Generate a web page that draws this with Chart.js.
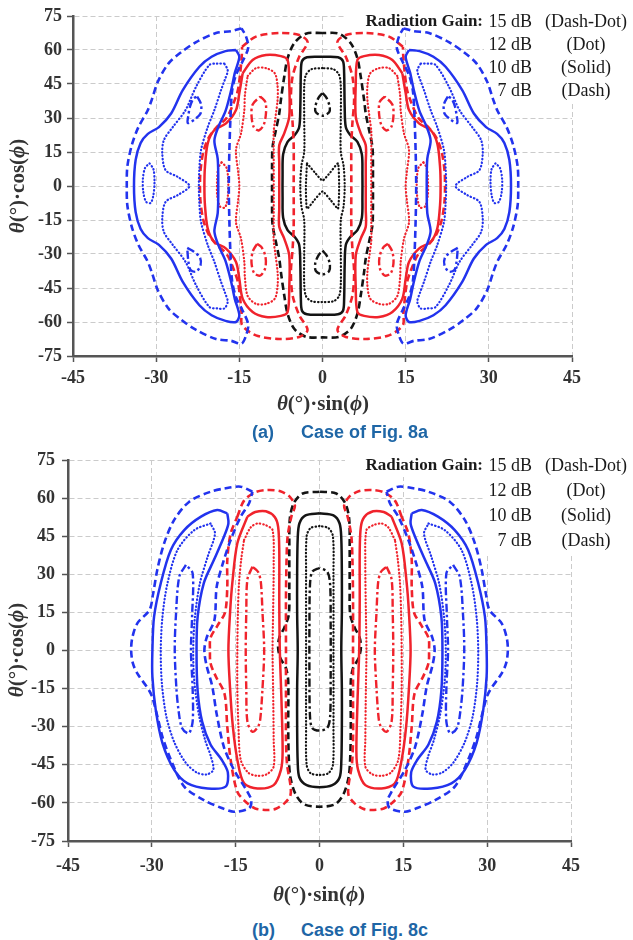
<!DOCTYPE html>
<html>
<head>
<meta charset="utf-8">
<script src="https://cdn.jsdelivr.net/npm/chart.js@4.4.1/dist/chart.umd.min.js"></script>
<style>
  body { margin: 0; background: #fff; width: 633px; height: 940px; position: relative; overflow: hidden; }
  .box { position: absolute; left: 0; width: 633px; }
  #boxA { top: 0; height: 420px; }
  #boxB { top: 440px; height: 470px; }
  .cap { position: absolute; font: bold 18px "Liberation Sans", Arial, sans-serif; color: #1e66a6; line-height: 22px; white-space: pre; }
</style>
</head>
<body>
<div class="box" id="boxA"><canvas id="chartA"></canvas></div>
<div class="box" id="boxB"><canvas id="chartB"></canvas></div>
<div class="cap" style="left:252px;top:421px">(a)</div>
<div class="cap" style="left:301px;top:421px">Case of Fig. 8a</div>
<div class="cap" style="left:252px;top:919px">(b)</div>
<div class="cap" style="left:301px;top:919px">Case of Fig. 8c</div>
<script>
// ── Axis ticks & legend text ───────────────────────────────
const xTicks = [-45, -30, -15, 0, 15, 30, 45];
const yTicks = [-75, -60, -45, -30, -15, 0, 15, 30, 45, 60, 75];
const legendTitle  = 'Radiation Gain:';
const legendLevels = ['15 dB', '12 dB', '10 dB', '7 dB'];
const legendStyles = ['(Dash-Dot)', '(Dot)', '(Solid)', '(Dash)'];

// ── Contours, case (a) — [θ·sinφ, θ·cosφ] ───────────────────
const aBlackDash = [[0,67.5],[-3,67.2],[-5.1,63],[-6.3,56.3],[-6.9,48.2],[-7.5,38],[-7.8,32],[-8.4,24.7],[-9,17.3],[-9.1,8.5],[-9.1,0],[-9.1,-8.5],[-9,-17.3],[-8.4,-24.7],[-7.8,-32],[-7.5,-38],[-6.9,-48.2],[-6.3,-56.3],[-5.1,-63],[-3,-66.5],[0,-66.8],[3,-66.5],[5.1,-63],[6.3,-56.3],[6.9,-48.2],[7.5,-38],[7.8,-32],[8.4,-24.7],[9,-17.3],[9.1,-8.5],[9.1,0],[9.1,8.5],[9,17.3],[8.4,24.7],[7.8,32],[7.5,38],[6.9,48.2],[6.3,56.3],[5.1,63],[3,67.2],[0,67.5]];
const aBlackSolid = [[0,57],[-2.8,56.8],[-3.7,55],[-3.9,50],[-4,35],[-4.2,26],[-5,22.5],[-6.3,19.5],[-7.1,14],[-7.2,5],[-7.2,-5],[-7.1,-14],[-6.3,-19.5],[-5,-22.5],[-4.2,-26],[-4,-35],[-3.9,-50],[-3.7,-55],[-2.8,-56.6],[0,-56.8],[2.8,-56.6],[3.7,-55],[3.9,-50],[4,-35],[4.2,-26],[5,-22.5],[6.3,-19.5],[7.1,-14],[7.2,-5],[7.2,5],[7.1,14],[6.3,19.5],[5,22.5],[4.2,26],[4,35],[3.9,50],[3.7,55],[2.8,56.8],[0,57]];
const aBlackDot = [[0,52],[-2,51.5],[-3,49],[-3.3,44],[-3.3,30],[-3.3,15],[-3.8,9],[-4,0],[-3.8,-9],[-3.3,-15],[-3.3,-30],[-3.3,-43],[-3,-48.5],[-2,-50.8],[0,-51.2],[2,-50.8],[3,-48.5],[3.3,-43],[3.3,-30],[3.3,-15],[3.8,-9],[4,0],[3.8,9],[3.3,15],[3.3,30],[3.3,44],[3,49],[2,51.5],[0,52]];
const aBlackDotTie = [[-2.8,10],[-1.4,6],[0,2.4],[1.4,6],[2.8,10],[3,0],[2.8,-10],[1.4,-6],[0,-2.4],[-1.4,-6],[-2.8,-10],[-3,0],[-2.8,10]];
const aBlackDDTop = [[0,41],[0.7,39],[1.3,35],[1.2,32.5],[0,31],[-1.2,32.5],[-1.3,35],[-0.7,39],[0,41]];
const aBlackDDBot = [[0,-28.5],[0.7,-30.5],[1.3,-34],[1.2,-37.5],[0,-39],[-1.2,-37.5],[-1.3,-34],[-0.7,-30.5],[0,-28.5]];

const aRedSolidL = [[-14.4,49.7],[-12.6,55.6],[-10.2,57.8],[-7.5,57.3],[-6.3,55.6],[-6,45.3],[-6,30.6],[-6.9,23.2],[-7.8,18],[-7.8,10],[-7.8,0],[-7.8,-10],[-7.8,-18],[-6.9,-23.2],[-6,-30.6],[-6,-45.3],[-6.3,-55.6],[-7.5,-57.3],[-10.2,-57.8],[-12.6,-55.6],[-14.4,-49.7],[-15,-41],[-15.6,-33.5],[-17.4,-27.6],[-19.5,-24.7],[-20.7,-18.8],[-21.2,-8.5],[-21.3,0],[-21.2,8.5],[-20.7,18.8],[-19.5,24.7],[-17.4,27.6],[-15.6,33.5],[-15,41],[-14.4,49.7]];
const aRedSolidR = [[14.4,49.7],[12.6,55.6],[10.2,57.8],[7.5,57.3],[6.3,55.6],[6,45.3],[6,30.6],[6.9,23.2],[7.8,18],[7.8,10],[7.8,0],[7.8,-10],[7.8,-18],[6.9,-23.2],[6,-30.6],[6,-45.3],[6.3,-55.6],[7.5,-57.3],[10.2,-57.8],[12.6,-55.6],[14.4,-49.7],[15,-41],[15.6,-33.5],[17.4,-27.6],[19.5,-24.7],[20.7,-18.8],[21.2,-8.5],[21.3,0],[21.2,8.5],[20.7,18.8],[19.5,24.7],[17.4,27.6],[15.6,33.5],[15,41],[14.4,49.7]];
const aRedDashL = [[-14.5,61.4],[-12,65.9],[-7.8,67.5],[-4.2,66.6],[-2.7,63.5],[-4.2,57],[-5.4,48.2],[-5.7,38],[-5.4,28],[-5.2,18],[-5.2,0],[-5.2,-18],[-5.4,-28],[-5.7,-38],[-5.4,-48.2],[-4.2,-57],[-2.7,-63.5],[-4.2,-66.6],[-7.8,-67.5],[-12,-65.9],[-14.5,-61.4],[-14.6,-56],[-15.2,-43],[-15.9,-37.5],[-17.3,-30],[-19.2,-25.7],[-20.6,-21],[-21.5,-15],[-22,-7],[-22.1,0],[-22,7],[-21.5,15],[-20.6,21],[-19.2,25.7],[-17.3,30],[-15.9,37.5],[-15.2,43],[-14.6,56],[-14.5,61.4]];
const aRedDashR = [[14.5,61.4],[12,65.9],[7.8,67.5],[4.2,66.6],[2.7,63.5],[4.2,57],[5.4,48.2],[5.7,38],[5.4,28],[5.2,18],[5.2,0],[5.2,-18],[5.4,-28],[5.7,-38],[5.4,-48.2],[4.2,-57],[2.7,-63.5],[4.2,-66.6],[7.8,-67.5],[12,-65.9],[14.5,-61.4],[14.6,-56],[15.2,-43],[15.9,-37.5],[17.3,-30],[19.2,-25.7],[20.6,-21],[21.5,-15],[22,-7],[22.1,0],[22,7],[21.5,15],[20.6,21],[19.2,25.7],[17.3,30],[15.9,37.5],[15.2,43],[14.6,56],[14.5,61.4]];
const aRedDotL = [[-13.5,48.5],[-12,52],[-10.2,52],[-8.6,49.7],[-8.1,44],[-8.1,38],[-8.5,30],[-8.8,24],[-8.8,15],[-8.8,0],[-8.8,-15],[-8.8,-24],[-8.5,-30],[-8.1,-38],[-8.1,-44],[-8.6,-49.7],[-10.2,-52],[-12,-52],[-13.5,-48.5],[-14,-40],[-14.1,-33.5],[-14.7,-23.2],[-15.6,-16],[-15.2,-6],[-15,0],[-15.2,6],[-15.6,16],[-14.7,23.2],[-14.1,33.5],[-14,40],[-13.5,48.5]];
const aRedDotR = [[13.5,48.5],[12,52],[10.2,52],[8.6,49.7],[8.1,44],[8.1,38],[8.5,30],[8.8,24],[8.8,15],[8.8,0],[8.8,-15],[8.8,-24],[8.5,-30],[8.1,-38],[8.1,-44],[8.6,-49.7],[10.2,-52],[12,-52],[13.5,-48.5],[14,-40],[14.1,-33.5],[14.7,-23.2],[15.6,-16],[15.2,-6],[15,0],[15.2,6],[15.6,16],[14.7,23.2],[14.1,33.5],[14,40],[13.5,48.5]];
const aRedDotOvalL = [[-18.2,10.5],[-17.3,8],[-17,2],[-17.1,-5],[-17.6,-9.5],[-18.5,-9],[-19,-4],[-19,3],[-18.8,8],[-18.2,10.5]];
const aRedDotOvalR = [[18.2,10.5],[17.3,8],[17,2],[17.1,-5],[17.6,-9.5],[18.5,-9],[19,-4],[19,3],[18.8,8],[18.2,10.5]];
const aRedDDTopL = [[-11.2,39.5],[-10.3,37],[-10.2,32],[-10.6,27],[-11.5,24.5],[-12.4,26],[-12.8,31],[-12.6,36],[-11.2,39.5]];
const aRedDDTopR = [[11.2,39.5],[10.3,37],[10.2,32],[10.6,27],[11.5,24.5],[12.4,26],[12.8,31],[12.6,36],[11.2,39.5]];
const aRedDDBotL = [[-11.8,-25.5],[-11,-27],[-10.3,-31],[-10.3,-36],[-11.2,-39.5],[-12.3,-38.5],[-12.8,-34],[-12.6,-29],[-11.8,-25.5]];
const aRedDDBotR = [[11.8,-25.5],[11,-27],[10.3,-31],[10.3,-36],[11.2,-39.5],[12.3,-38.5],[12.8,-34],[12.6,-29],[11.8,-25.5]];

const aBlueDashL = [[-14.6,69.5],[-16.5,68.3],[-19.2,67.5],[-22.8,63.5],[-25.5,59],[-27.8,54],[-29.7,46],[-30.8,38],[-31.6,33],[-33.2,26],[-34.4,18],[-35.2,8.5],[-35.3,0],[-35.2,-8.5],[-34.4,-18],[-33.2,-26],[-31.6,-33],[-30.8,-38],[-29.7,-46],[-27.8,-54],[-25.5,-59],[-22.8,-63.5],[-19.2,-67.5],[-16.5,-68.3],[-14.6,-69.5],[-13.8,-66],[-13.4,-61],[-14.4,-55],[-15.6,-49],[-16.3,-42],[-16.6,-30],[-16.8,-15],[-16.9,0],[-16.8,15],[-16.6,30],[-16.3,42],[-15.6,49],[-14.4,55],[-13.4,61],[-13.8,66],[-14.6,69.5]];
const aBlueDashR = [[14.6,69.5],[16.5,68.3],[19.2,67.5],[22.8,63.5],[25.5,59],[27.8,54],[29.7,46],[30.8,38],[31.6,33],[33.2,26],[34.4,18],[35.2,8.5],[35.3,0],[35.2,-8.5],[34.4,-18],[33.2,-26],[31.6,-33],[30.8,-38],[29.7,-46],[27.8,-54],[25.5,-59],[22.8,-63.5],[19.2,-67.5],[16.5,-68.3],[14.6,-69.5],[13.8,-66],[13.4,-61],[14.4,-55],[15.6,-49],[16.3,-42],[16.6,-30],[16.8,-15],[16.9,0],[16.8,15],[16.6,30],[16.3,42],[15.6,49],[14.4,55],[13.4,61],[13.8,66],[14.6,69.5]];
const aBlueSolidL = [[-15.6,60],[-17.5,59.5],[-20,57],[-22.2,52.6],[-25.2,42.3],[-27.3,32],[-29.5,26],[-31.5,23],[-32.8,19],[-33.7,11.5],[-34,0],[-33.7,-11.5],[-32.8,-19],[-31.5,-23],[-29.5,-26],[-27.3,-32],[-25.2,-42.3],[-22.2,-52.6],[-20,-57],[-17.5,-59.5],[-15.6,-60],[-15,-57],[-15.8,-50],[-16.5,-42],[-17.5,-33],[-18.8,-26],[-19.5,-20],[-18.9,-12],[-18.8,0],[-18.9,12],[-19.5,20],[-18.8,26],[-17.5,33],[-16.5,42],[-15.8,50],[-15,57],[-15.6,60]];
const aBlueSolidR = [[15.6,60],[17.5,59.5],[20,57],[22.2,52.6],[25.2,42.3],[27.3,32],[29.5,26],[31.5,23],[32.8,19],[33.7,11.5],[34,0],[33.7,-11.5],[32.8,-19],[31.5,-23],[29.5,-26],[27.3,-32],[25.2,-42.3],[22.2,-52.6],[20,-57],[17.5,-59.5],[15.6,-60],[15,-57],[15.8,-50],[16.5,-42],[17.5,-33],[18.8,-26],[19.5,-20],[18.9,-12],[18.8,0],[18.9,12],[19.5,20],[18.8,26],[17.5,33],[16.5,42],[15.8,50],[15,57],[15.6,60]];
const aBlueDotL = [[-17.7,54],[-19,54],[-20.4,53.4],[-22.8,43.8],[-24.7,33.5],[-27,26],[-28.6,20.3],[-28.9,14.4],[-28.3,7],[-26.1,4],[-24,0],[-26.1,-4],[-28.3,-7],[-28.9,-14.4],[-28.6,-20.3],[-27,-26],[-24.7,-33.5],[-22.8,-43.8],[-20.4,-53.4],[-19,-54],[-17.7,-54],[-17.1,-51],[-17.6,-47],[-18.3,-42.3],[-19.5,-33.5],[-20.7,-26],[-21.9,-16],[-22.2,-8],[-22.3,0],[-22.2,8],[-21.9,16],[-20.7,26],[-19.5,33.5],[-18.3,42.3],[-17.6,47],[-17.1,51],[-17.7,54]];
const aBlueDotR = [[17.7,54],[19,54],[20.4,53.4],[22.8,43.8],[24.7,33.5],[27,26],[28.6,20.3],[28.9,14.4],[28.3,7],[26.1,4],[24,0],[26.1,-4],[28.3,-7],[28.9,-14.4],[28.6,-20.3],[27,-26],[24.7,-33.5],[22.8,-43.8],[20.4,-53.4],[19,-54],[17.7,-54],[17.1,-51],[17.6,-47],[18.3,-42.3],[19.5,-33.5],[20.7,-26],[21.9,-16],[22.2,-8],[22.3,0],[22.2,8],[21.9,16],[20.7,26],[19.5,33.5],[18.3,42.3],[17.6,47],[17.1,51],[17.7,54]];
const aBlueDotOvalL = [[-31.2,10],[-30.5,7.5],[-30.3,2],[-30.5,-4],[-31,-7.5],[-31.8,-7],[-32.3,-3],[-32.4,3],[-32,8],[-31.2,10]];
const aBlueDotOvalR = [[31.2,10],[30.5,7.5],[30.3,2],[30.5,-4],[31,-7.5],[31.8,-7],[32.3,-3],[32.4,3],[32,8],[31.2,10]];
const aBlueDDTopL = [[-22.6,39.5],[-21.9,36],[-22,32],[-23,29.5],[-24.3,27.8],[-24.2,31],[-23.9,35],[-23.3,38.5],[-22.6,39.5]];
const aBlueDDTopR = [[22.6,39.5],[21.9,36],[22,32],[23,29.5],[24.3,27.8],[24.2,31],[23.9,35],[23.3,38.5],[22.6,39.5]];
const aBlueDDBotL = [[-24.4,-27.3],[-23.2,-29],[-22.1,-31.5],[-22,-35],[-22.8,-37.8],[-23.8,-37],[-24.2,-33],[-24.4,-27.3]];
const aBlueDDBotR = [[24.4,-27.3],[23.2,-29],[22.1,-31.5],[22,-35],[22.8,-37.8],[23.8,-37],[24.2,-33],[24.4,-27.3]];

// ── Contours, case (b) ─────────────────────────────────────
const bBlackDash = [[0,62.5],[-3,61.8],[-4.6,58],[-5.3,52],[-5.4,40],[-5.4,25],[-5.5,14],[-6.3,9],[-7.2,5],[-7.4,1],[-7,-3],[-6,-7],[-5.6,-12],[-5.6,-30],[-5.5,-42],[-5.2,-50],[-4.3,-56.5],[-2.8,-60.5],[0,-61.5],[2.8,-60.5],[4.3,-56.5],[5.2,-50],[5.5,-42],[5.6,-30],[5.6,-12],[6,-7],[7,-3],[7.4,1],[7.2,5],[6.3,9],[5.5,14],[5.4,25],[5.4,40],[5.3,52],[4.6,58],[3,61.8],[0,62.5]];
const bBlackSolid = [[0,54],[-2.5,53.2],[-3.6,50],[-3.9,44],[-4,30],[-4,15],[-3.9,0],[-4,-15],[-4,-30],[-3.9,-44],[-3.6,-50],[-2.3,-53],[0,-53.8],[2.3,-53],[3.6,-50],[3.9,-44],[4,-30],[4,-15],[3.9,0],[4,15],[4,30],[3.9,44],[3.6,50],[2.5,53.2],[0,54]];
const bBlackDot = [[0,49],[-1.6,48.2],[-2.3,45],[-2.4,30],[-2.4,0],[-2.4,-30],[-2.3,-45],[-1.6,-48.3],[0,-49],[1.6,-48.3],[2.4,-45],[2.5,-30],[2.5,0],[2.5,30],[2.4,45],[1.6,48.2],[0,49]];
const bBlackDD = [[0,32.5],[-1.3,31],[-1.7,26],[-1.8,10],[-1.8,-10],[-1.7,-26],[-1.3,-30.5],[0,-31.5],[1.4,-30.5],[1.9,-26],[2,-10],[2,10],[1.9,26],[1.4,31],[0,32.5]];

const bRedSolidL = [[-12.9,52.7],[-11.5,54.5],[-9.6,54.8],[-8,52.5],[-7.4,48.7],[-7.2,39.6],[-7.2,20],[-7.1,0],[-6.8,-20],[-6.6,-40],[-6.9,-47],[-8.2,-53],[-11.1,-54.3],[-13.5,-52.3],[-14.7,-43],[-15.5,-30],[-16,-15],[-16.3,0],[-16,15],[-15.6,26.5],[-14.7,42.2],[-12.9,52.7]];
const bRedSolidR = [[12.9,52.7],[11.5,54.5],[9.6,54.8],[8,52.5],[7.4,48.7],[7.2,39.6],[7.2,20],[7.1,0],[6.8,-20],[6.6,-40],[6.9,-47],[8.2,-53],[11.1,-54.3],[13.5,-52.3],[14.7,-43],[15.5,-30],[16,-15],[16.3,0],[16,15],[15.6,26.5],[14.7,42.2],[12.9,52.7]];
const bRedDotL = [[-13.5,43.5],[-12.3,48.5],[-11.1,50],[-9.6,49.3],[-8.4,47.4],[-8.2,35],[-8.3,15],[-8.4,0],[-8.3,-15],[-8.2,-35],[-8.2,-45.7],[-9.5,-48.8],[-11.3,-49.3],[-12.8,-48],[-14.1,-43],[-14.5,-30],[-14.7,-15],[-14.7,0],[-14.6,15],[-14.4,26.5],[-14,36],[-13.5,43.5]];
const bRedDotR = [[13.5,43.5],[12.3,48.5],[11.1,50],[9.6,49.3],[8.4,47.4],[8.2,35],[8.3,15],[8.4,0],[8.3,-15],[8.2,-35],[8.2,-45.7],[9.5,-48.8],[11.3,-49.3],[12.8,-48],[14.1,-43],[14.5,-30],[14.7,-15],[14.7,0],[14.6,15],[14.4,26.5],[14,36],[13.5,43.5]];
const bRedDDL = [[-12,33],[-12.9,28],[-13.1,15],[-13.2,0],[-13.1,-15],[-12.9,-28],[-12,-32],[-11,-30],[-10.6,-27],[-10.2,-15],[-9.9,0],[-10.2,15],[-10.5,27],[-11,31],[-12,33]];
const bRedDDR = [[12,33],[12.9,28],[13.1,15],[13.2,0],[13.1,-15],[12.9,-28],[12,-32],[11,-30],[10.6,-27],[10.2,-15],[9.9,0],[10.2,15],[10.5,27],[11,31],[12,33]];
const bRedDashL = [[-14.7,52.7],[-13.5,59],[-11.5,62.3],[-9.3,63.2],[-7,62.7],[-5.3,60.5],[-4.4,57],[-5,53],[-5.7,45],[-5.9,35],[-6,20],[-6,0],[-6,-20],[-6,-35],[-5.8,-45],[-5.2,-53],[-5.2,-57],[-6.2,-60],[-7.8,-62.3],[-9.3,-62.8],[-11.5,-62.2],[-12.9,-60.2],[-14.7,-55.6],[-15.9,-43],[-16.5,-30],[-17,-17],[-18.6,-10],[-19.5,-5],[-19.6,0],[-19.5,5],[-18.2,10],[-16.9,15],[-16.5,25],[-16.5,35.6],[-15.9,46],[-14.7,52.7]];
const bRedDashR = [[14.7,52.7],[13.5,59],[11.5,62.3],[9.3,63.2],[7,62.7],[5.3,60.5],[4.4,57],[5,53],[5.7,45],[5.9,35],[6,20],[6,0],[6,-20],[6,-35],[5.8,-45],[5.2,-53],[5.2,-57],[6.2,-60],[7.8,-62.3],[9.3,-62.8],[11.5,-62.2],[12.9,-60.2],[14.7,-55.6],[15.9,-43],[16.5,-30],[17,-17],[18.6,-10],[19.5,-5],[19.6,0],[19.5,5],[18.2,10],[16.9,15],[16.5,25],[16.5,35.6],[15.9,46],[14.7,52.7]];

const bBlueSolidL = [[-16.5,54],[-18.3,55.3],[-21.2,52.7],[-24.2,47.4],[-26.6,39.6],[-28.4,26.5],[-29.6,13.3],[-29.9,0],[-29.9,-10.3],[-29.3,-23.4],[-28.1,-36.5],[-26,-47],[-23.6,-52.3],[-20,-54.3],[-16.8,-53.6],[-16.4,-48],[-17.5,-43],[-19.5,-37],[-21,-28],[-21.8,-16],[-22,0],[-21.8,13.3],[-20.7,26.5],[-18.9,35.6],[-17.1,44.8],[-16.3,50],[-16.5,54]];
const bBlueSolidR = [[16.5,54],[18.3,55.3],[21.2,52.7],[24.2,47.4],[26.6,39.6],[28.4,26.5],[29.6,13.3],[29.9,0],[29.9,-10.3],[29.3,-23.4],[28.1,-36.5],[26,-47],[23.6,-52.3],[20,-54.3],[16.8,-53.6],[16.4,-48],[17.5,-43],[19.5,-37],[21,-28],[21.8,-16],[22,0],[21.8,13.3],[20.7,26.5],[18.9,35.6],[17.1,44.8],[16.3,50],[16.5,54]];
const bBlueDotL = [[-19.5,50],[-22.4,47.4],[-25.4,39.6],[-27.2,26.5],[-28.1,13.3],[-28.4,0],[-28.2,-13],[-27.4,-26],[-26,-36],[-24,-44],[-22,-48],[-20.2,-48.8],[-19,-47],[-19.4,-42],[-20.5,-35],[-21.6,-25],[-22.4,-12],[-22.6,0],[-22.3,13],[-21.4,26.5],[-20,37],[-18.7,46],[-19.5,50]];
const bBlueDotR = [[19.5,50],[22.4,47.4],[25.4,39.6],[27.2,26.5],[28.1,13.3],[28.4,0],[28.2,-13],[27.4,-26],[26,-36],[24,-44],[22,-48],[20.2,-48.8],[19,-47],[19.4,-42],[20.5,-35],[21.6,-25],[22.4,-12],[22.6,0],[22.3,13],[21.4,26.5],[20,37],[18.7,46],[19.5,50]];
const bBlueDDL = [[-23.9,33.7],[-25.1,29],[-25.7,13.3],[-25.9,0],[-25.6,-15],[-25.2,-24],[-24.6,-30.5],[-23.4,-32.6],[-22.7,-28],[-22.7,-15],[-23,0],[-22.8,13.3],[-22.7,30.4],[-23.9,33.7]];
const bBlueDDR = [[23.9,33.7],[25.1,29],[25.7,13.3],[25.9,0],[25.6,-15],[25.2,-24],[24.6,-30.5],[23.4,-32.6],[22.7,-28],[22.7,-15],[23,0],[22.8,13.3],[22.7,30.4],[23.9,33.7]];
const bBlueDashL = [[-12,62.5],[-14.1,64.5],[-17,63.8],[-19.5,62.5],[-23.3,58.6],[-26,51.4],[-27.8,42.2],[-29,32],[-29.8,22],[-30.4,16],[-32.6,10.7],[-33.5,5],[-33.7,0],[-33.4,-5],[-32.6,-9],[-30.2,-16.9],[-29,-26],[-28.1,-34],[-26.6,-43],[-24.2,-53.6],[-20.7,-58.9],[-17.5,-62],[-15.3,-63.5],[-12.6,-62.1],[-12.2,-59],[-12.9,-55.6],[-15.3,-47],[-17.1,-38],[-18.4,-25],[-19.2,-14],[-20.2,-6],[-20.6,0],[-20.2,5],[-18.8,12],[-18.4,25],[-17.2,35],[-15.9,43.5],[-14.1,52.7],[-12.6,58],[-12,62.5]];
const bBlueDashR = [[12,62.5],[14.1,64.5],[17,63.8],[19.5,62.5],[23.3,58.6],[26,51.4],[27.8,42.2],[29,32],[29.8,22],[30.4,16],[32.6,10.7],[33.5,5],[33.7,0],[33.4,-5],[32.6,-9],[30.2,-16.9],[29,-26],[28.1,-34],[26.6,-43],[24.2,-53.6],[20.7,-58.9],[17.5,-62],[15.3,-63.5],[12.6,-62.1],[12.2,-59],[12.9,-55.6],[15.3,-47],[17.1,-38],[18.4,-25],[19.2,-14],[20.2,-6],[20.6,0],[20.2,5],[18.8,12],[18.4,25],[17.2,35],[15.9,43.5],[14.1,52.7],[12.6,58],[12,62.5]];

// ── Styles ─────────────────────────────────────────────────
const COL = { k: '#141414', r: '#f0232c', b: '#2233ee' };
const STY = {
  dash:  { d: [7, 4],          w: 2.6, cap: 'butt' },
  solid: { d: [],              w: 2.5, cap: 'butt' },
  dot:   { d: [0.5, 3],        w: 2.2, cap: 'round' },
  dd:    { d: [8, 3, 2.5, 3],  w: 2.4, cap: 'butt' },
};
const SERIF = '"Liberation Serif", "Times New Roman", serif';

const P = a => a.map(([x, y]) => ({ x, y }));

function line(pts, col, sty, t) {
  return {
    data: P(pts), showLine: true,
    borderColor: COL[col], borderWidth: STY[sty].w, borderDash: STY[sty].d,
    borderCapStyle: STY[sty].cap, borderJoinStyle: 'round',
    pointRadius: 0, pointHoverRadius: 0, fill: false,
    tension: t == null ? 0.3 : t,
  };
}

const setsA = [
  line(aBlueDashL, 'b', 'dash'), line(aBlueDashR, 'b', 'dash'),
  line(aBlueSolidL, 'b', 'solid'), line(aBlueSolidR, 'b', 'solid'),
  line(aBlueDotL, 'b', 'dot'), line(aBlueDotR, 'b', 'dot'),
  line(aBlueDotOvalL, 'b', 'dot'), line(aBlueDotOvalR, 'b', 'dot'),
  line(aBlueDDTopL, 'b', 'dd'), line(aBlueDDTopR, 'b', 'dd'),
  line(aBlueDDBotL, 'b', 'dd'), line(aBlueDDBotR, 'b', 'dd'),
  line(aRedDashL, 'r', 'dash'), line(aRedDashR, 'r', 'dash'),
  line(aRedSolidL, 'r', 'solid'), line(aRedSolidR, 'r', 'solid'),
  line(aRedDotL, 'r', 'dot'), line(aRedDotR, 'r', 'dot'),
  line(aRedDotOvalL, 'r', 'dot'), line(aRedDotOvalR, 'r', 'dot'),
  line(aRedDDTopL, 'r', 'dd'), line(aRedDDTopR, 'r', 'dd'),
  line(aRedDDBotL, 'r', 'dd'), line(aRedDDBotR, 'r', 'dd'),
  line(aBlackDash, 'k', 'dash'), line(aBlackSolid, 'k', 'solid'),
  line(aBlackDot, 'k', 'dot'), line(aBlackDotTie, 'k', 'dot', 0.15),
  line(aBlackDDTop, 'k', 'dd'), line(aBlackDDBot, 'k', 'dd'),
];

const setsB = [
  line(bBlueDashL, 'b', 'dash'), line(bBlueDashR, 'b', 'dash'),
  line(bBlueSolidL, 'b', 'solid'), line(bBlueSolidR, 'b', 'solid'),
  line(bBlueDotL, 'b', 'dot'), line(bBlueDotR, 'b', 'dot'),
  line(bBlueDDL, 'b', 'dd'), line(bBlueDDR, 'b', 'dd'),
  line(bRedDashL, 'r', 'dash'), line(bRedDashR, 'r', 'dash'),
  line(bRedSolidL, 'r', 'solid'), line(bRedSolidR, 'r', 'solid'),
  line(bRedDotL, 'r', 'dot'), line(bRedDotR, 'r', 'dot'),
  line(bRedDDL, 'r', 'dd'), line(bRedDDR, 'r', 'dd'),
  line(bBlackDash, 'k', 'dash'), line(bBlackSolid, 'k', 'solid'),
  line(bBlackDot, 'k', 'dot'), line(bBlackDD, 'k', 'dd'),
];

// ── Axis titles (mixed italic) + legend block ──────────────
const TB = 'bold 21px ' + SERIF, TI = 'italic bold 21px ' + SERIF;
const xTitle = [['θ', TI], ['(°)·sin(', TB], ['ϕ', TI], [')', TB]];
const yTitle = [['θ', TI], ['(°)·cos(', TB], ['ϕ', TI], [')', TB]];

function rich(ctx, parts, cx, cy, rot) {
  ctx.save();
  ctx.translate(cx, cy);
  ctx.rotate(rot);
  ctx.textBaseline = 'middle';
  ctx.textAlign = 'left';
  ctx.fillStyle = '#333';
  let w = 0;
  parts.forEach(p => { ctx.font = p[1]; w += ctx.measureText(p[0]).width; });
  let x = -w / 2;
  parts.forEach(p => { ctx.font = p[1]; ctx.fillText(p[0], x, 0); x += ctx.measureText(p[0]).width; });
  ctx.restore();
}

const decor = {
  id: 'decor',
  beforeDatasetsDraw(chart, args, o) {
    // legend sits on a white patch that hides the grid behind it
    const ctx = chart.ctx;
    ctx.save();
    ctx.fillStyle = '#fff';
    ctx.fillRect(345, o.legY - 11, 288, 22);
    ctx.fillRect(484, o.legY + 11, 149, o.legGap * 3 + 2);
    ctx.restore();
  },
  afterDraw(chart, args, o) {
    const ctx = chart.ctx;
    rich(ctx, xTitle, o.xt[0], o.xt[1], 0);
    rich(ctx, yTitle, o.yt[0], o.yt[1], -Math.PI / 2);

    ctx.save();
    ctx.fillStyle = '#1a1a1a';
    ctx.textBaseline = 'middle';
    ctx.font = 'bold 17px ' + SERIF;
    ctx.textAlign = 'right';
    ctx.fillText(legendTitle, 483, o.legY);
    ctx.font = '18px ' + SERIF;
    legendLevels.forEach((t, i) => {
      const y = o.legY + i * o.legGap;
      ctx.textAlign = 'right';
      ctx.fillText(t, 532, y);
      ctx.textAlign = 'center';
      ctx.fillText(legendStyles[i], 586, y);
    });
    ctx.restore();
  },
};

function axis(ticks, fit, pad) {
  return {
    type: 'linear',
    min: ticks[0], max: ticks[ticks.length - 1],
    afterBuildTicks: s => { s.ticks = ticks.map(v => ({ value: v })); },
    afterFit: fit,
    grid: { color: '#cbcbcb', lineWidth: 1, tickLength: 6, tickColor: '#555', tickWidth: 1.5, tickBorderDash: [] },
    border: { color: '#555', width: 2.5, dash: [5, 3] },
    ticks: { font: { family: SERIF, weight: 'bold', size: 18 }, color: '#333', padding: pad, maxRotation: 0, autoSkip: false },
  };
}

function makeChart(id, sets, c) {
  return new Chart(document.getElementById(id), {
    type: 'scatter',
    data: { datasets: sets },
    options: {
      responsive: true, maintainAspectRatio: false, animation: false, devicePixelRatio: 1,
      events: [],
      layout: { padding: { top: c.top, right: c.right, left: 0, bottom: 0 } },
      plugins: { legend: { display: false }, tooltip: { enabled: false }, decor: c.decor },
      scales: {
        x: axis(xTicks, s => { s.height = c.xh; }, c.xpad),
        y: axis(yTicks, s => { s.width = c.yw; }, c.ypad),
      },
    },
    plugins: [decor],
  });
}

makeChart('chartA', setsA, {
  top: 16, right: 61, xh: 64, yw: 73, xpad: 6, ypad: 5,
  decor: { xt: [323, 405], yt: [19, 186], legY: 22, legGap: 23 },
});
makeChart('chartB', setsB, {
  top: 20, right: 62, xh: 69, yw: 68, xpad: 9, ypad: 7,
  decor: { xt: [319, 456], yt: [18, 210], legY: 26, legGap: 25 },
});
</script>
</body>
</html>
